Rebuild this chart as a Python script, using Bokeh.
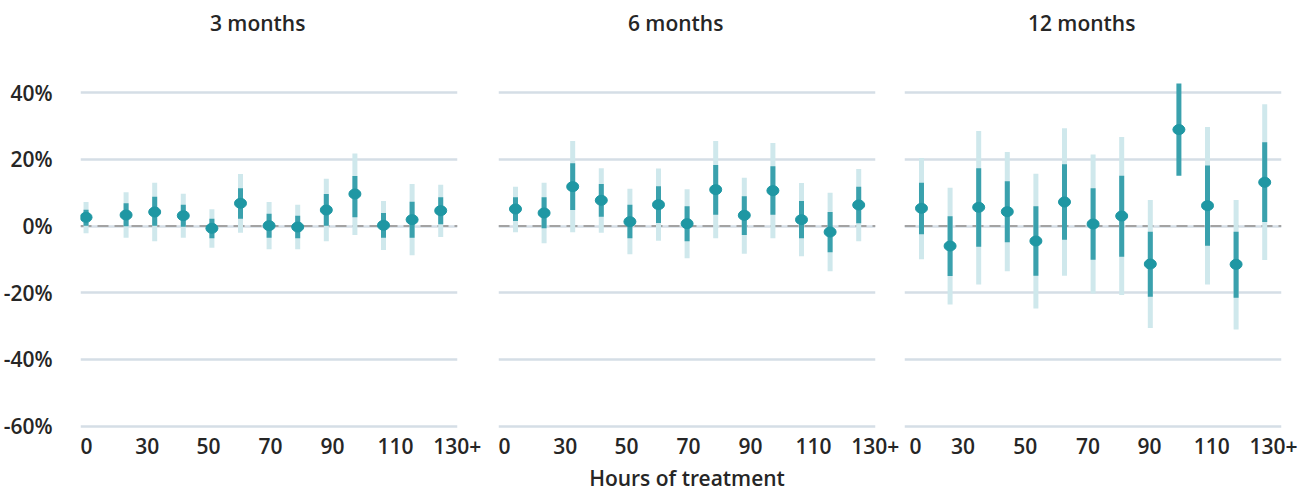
import math
from bokeh.plotting import figure
from bokeh.layouts import row
from bokeh.models import Range1d, FixedTicker, PrintfTickFormatter, Span, Label, ColumnDataSource
from bokeh.embed import file_html
from bokeh.resources import INLINE

NaN = float("nan")

panel_titles = ["3 months", "6 months", "12 months"]
x_tick_labels = ["0", "30", "50", "70", "90", "110", "130+"]
y_ticks = [-60, -40, -20, 0, 20, 40]
x_axis_title = "Hours of treatment"

# positions of the hour bins on the x axis
pos_3m = [1, 15, 25, 35, 45, 55, 65, 75, 85, 95, 105, 115, 125]
pos_6m = [5, 15, 25, 35, 45, 55, 65, 75, 85, 95, 105, 115, 125]
pos_12m = [5, 15, 25, 35, 45, 55, 65, 75, 85, 95, 105, 115, 125]

# tick positions of the labels per panel
ticks_3m = [1.15, 22.4, 43.8, 65.5, 87.2, 109.2, 130.8]
ticks_6m = [1.15, 22.4, 43.8, 65.5, 87.2, 109.2, 130.8]
ticks_12m = [2.9, 19.5, 41.3, 63.2, 84.7, 106.5, 128.1]

# 3 months
est_3m = [2.6, 3.3, 4.2, 3.1, -0.7, 6.8, 0.1, -0.3, 4.8, 9.6, 0.2, 1.9, 4.6]
lo90_3m = [0.1, -0.1, 0.1, -0.2, -3.7, 2.2, -3.5, -3.7, 0.1, 2.6, -3.5, -3.5, 0.5]
hi90_3m = [4.9, 6.8, 8.8, 6.4, 2.2, 11.3, 3.7, 3.1, 9.6, 15.0, 3.9, 7.3, 8.6]
lo95_3m = [-2.2, -3.5, -4.6, -3.5, -6.5, -2.0, -7.0, -7.0, -4.6, -2.7, -7.2, -8.8, -3.3]
hi95_3m = [7.2, 10.1, 13.0, 9.7, 5.0, 15.6, 7.2, 6.4, 14.2, 21.7, 7.5, 12.6, 12.4]

# 6 months
est_6m = [5.1, 3.9, 11.8, 7.7, 1.3, 6.4, 0.7, 10.9, 3.2, 10.6, 1.9, -1.8, 6.3]
lo90_6m = [1.5, -0.7, 4.8, 2.8, -3.7, 0.9, -4.6, 3.4, -2.7, 3.4, -3.7, -7.9, 0.8]
hi90_6m = [8.6, 8.6, 18.8, 12.6, 6.4, 11.9, 5.9, 18.3, 8.9, 17.9, 7.5, 4.2, 11.8]
lo95_6m = [-1.9, -5.2, -1.9, -2.0, -8.5, -4.4, -9.7, -3.7, -8.3, -3.7, -9.1, -13.6, -4.6]
hi95_6m = [11.8, 13.0, 25.5, 17.3, 11.2, 17.2, 11.0, 25.5, 14.5, 24.9, 12.9, 10.0, 17.1]

# 12 months
est_12m = [5.3, -6.0, 5.6, 4.3, -4.5, 7.2, 0.6, 3.0, -11.4, 28.9, 6.1, -11.5, 13.1]
lo90_12m = [-2.5, -15.0, -6.2, -4.9, -14.9, -4.1, -10.1, -9.2, -21.2, 15.1, -5.9, -21.5, 1.2]
hi90_12m = [13.0, 2.9, 17.3, 13.4, 5.9, 18.5, 11.3, 15.1, -1.7, 42.7, 18.1, -1.7, 25.1]
lo95_12m = [-10.0, -23.5, -17.5, -13.6, -24.7, -14.9, -20.2, -20.7, -30.6, NaN, -17.5, -31.0, -10.2]
hi95_12m = [20.4, 11.5, 28.5, 22.2, 15.7, 29.3, 21.4, 26.7, 7.8, NaN, 29.7, 7.8, 36.5]

FONT = "Open Sans SemiBold"
FS = "21px"
TXT = "#262626"
DOT = "#1f97a3"
DARK = "#3aa1ad"
LIGHT = "#cfe8ec"
GRID = "#d5dee6"

panels = [
    (panel_titles[0], pos_3m, ticks_3m, est_3m, lo90_3m, hi90_3m, lo95_3m, hi95_3m),
    (panel_titles[1], pos_6m, ticks_6m, est_6m, lo90_6m, hi90_6m, lo95_6m, hi95_6m),
    (panel_titles[2], pos_12m, ticks_12m, est_12m, lo90_12m, hi90_12m, lo95_12m, hi95_12m),
]
borders = [(79, 30), (11, 28), (1, 30)]

figs = []
for i, (title, pos, ticks, est, lo90, hi90, lo95, hi95) in enumerate(panels):
    bl, br = borders[i]
    p = figure(frame_width=377, frame_height=417,
               x_range=Range1d(-0.94, 130.87), y_range=Range1d(-61, 64),
               output_backend="svg", toolbar_location=None,
               min_border_left=bl, min_border_right=br, min_border_top=12,
               min_border_bottom=62,
               y_axis_location="left" if i == 0 else None)
    p.outline_line_color = None
    p.background_fill_color = "white"
    p.border_fill_color = "white"
    src = ColumnDataSource(dict(x=pos, est=est, lo90=lo90, hi90=hi90, lo95=lo95, hi95=hi95))

    p.xgrid.grid_line_color = None
    p.ygrid.ticker = FixedTicker(ticks=y_ticks)
    p.ygrid.grid_line_color = GRID
    p.ygrid.grid_line_width = 2.5

    p.add_layout(Span(location=0, dimension="width", line_color="#a3a3a3",
                      line_width=2, line_dash="11 6", level="underlay"))

    p.segment(x0="x", y0="lo95", x1="x", y1="hi95", source=src,
              line_color=LIGHT, line_width=5)
    p.segment(x0="x", y0="lo90", x1="x", y1="hi90", source=src,
              line_color=DARK, line_width=5)
    p.ellipse(x="x", y="est", width=12, height=10, width_units="screen",
              height_units="screen", source=src, fill_color=DOT, line_color=DOT)

    p.add_layout(Label(x=61, y=61, text=title, text_align="center",
                       text_baseline="middle", text_font=FONT,
                       text_font_size=FS, text_color=TXT))

    xa = p.xaxis[0]
    xa.ticker = FixedTicker(ticks=ticks)
    xa.major_label_overrides = {t: lab for t, lab in zip(ticks, x_tick_labels)}
    xa.axis_line_color = None
    xa.major_tick_line_color = None
    xa.minor_tick_line_color = None
    xa.major_label_standoff = 2
    xa.major_label_text_font = FONT
    xa.major_label_text_font_size = FS
    xa.major_label_text_color = TXT
    if i == 1:
        xa.axis_label = x_axis_title
        xa.axis_label_text_font = FONT
        xa.axis_label_text_font_style = "normal"
        xa.axis_label_text_font_size = FS
        xa.axis_label_text_color = TXT
        xa.axis_label_standoff = 7

    if i == 0:
        ya = p.yaxis[0]
        ya.ticker = FixedTicker(ticks=y_ticks)
        ya.formatter = PrintfTickFormatter(format="%d%%")
        ya.axis_line_color = None
        ya.major_tick_line_color = None
        ya.minor_tick_line_color = None
        ya.major_label_standoff = 22
        ya.major_label_text_font = FONT
        ya.major_label_text_font_size = FS
        ya.major_label_text_color = TXT
    figs.append(p)

layout = row(*figs, spacing=0)
open("out.html", "w").write(file_html(layout, INLINE))
